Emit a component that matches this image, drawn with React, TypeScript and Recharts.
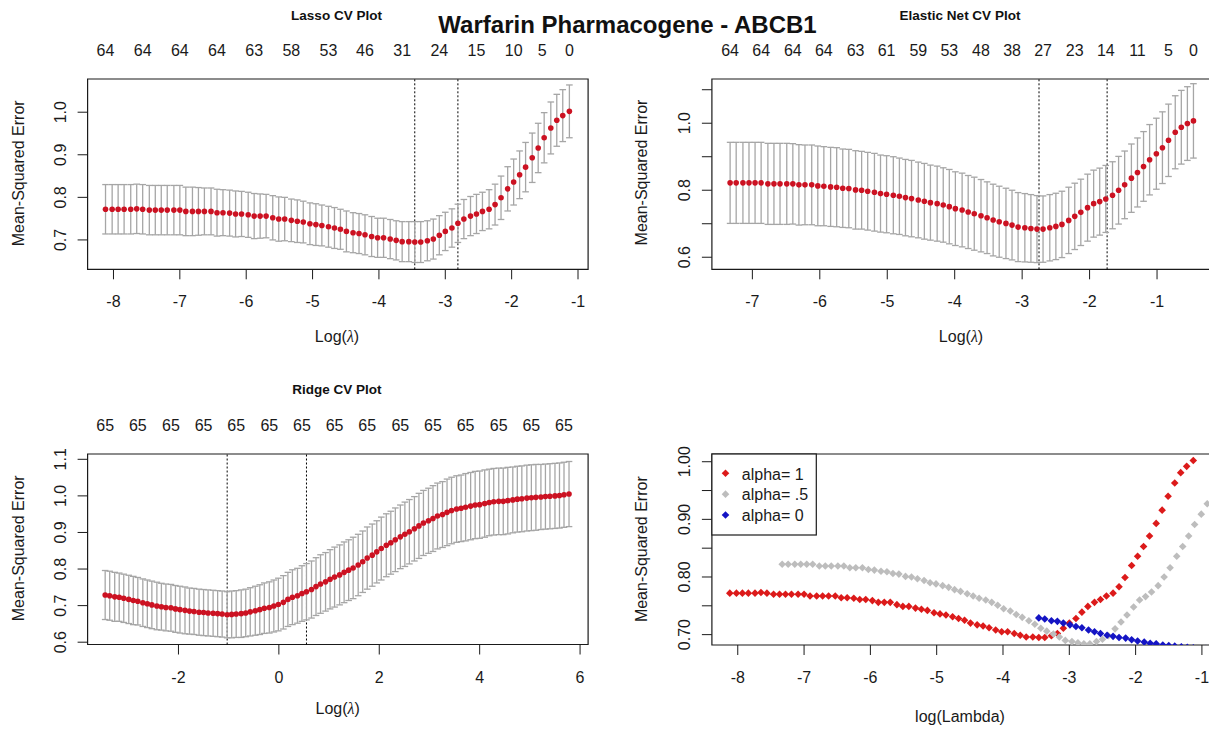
import React from 'react';
import { ComposedChart, Scatter, XAxis, YAxis, ErrorBar, ReferenceLine, ReferenceArea } from 'recharts';

const FONT = '"Liberation Sans", Arial, Helvetica, sans-serif';
const INK = '#1a1a1a';
const RED_CV = '#cc1222';
const ERR_GREY = '#a6a6a6';
const RED = '#dc1a1a';
const GREY = '#bdbdbd';
const BLUE = '#1414c4';

// ---------- Lasso (alpha = 1) ----------
const lassoLogLambda = [
  -8.12, -8.02, -7.93, -7.84, -7.74, -7.65, -7.56, -7.46, -7.37, -7.28,
  -7.19, -7.09, -7.00, -6.91, -6.81, -6.72, -6.63, -6.53, -6.44, -6.35,
  -6.25, -6.16, -6.07, -5.97, -5.88, -5.79, -5.70, -5.60, -5.51, -5.42,
  -5.32, -5.23, -5.14, -5.04, -4.95, -4.86, -4.76, -4.67, -4.58, -4.49,
  -4.39, -4.30, -4.21, -4.11, -4.02, -3.93, -3.83, -3.74, -3.65, -3.55,
  -3.46, -3.37, -3.27, -3.18, -3.09, -3.00, -2.90, -2.81, -2.72, -2.62,
  -2.53, -2.44, -2.34, -2.25, -2.16, -2.06, -1.97, -1.88, -1.79, -1.69,
  -1.60, -1.51, -1.41, -1.32, -1.23, -1.13,
];
const lassoMse = [
  0.772, 0.772, 0.772, 0.772, 0.772, 0.773, 0.772, 0.770, 0.770, 0.770,
  0.770, 0.770, 0.770, 0.767, 0.767, 0.767, 0.767, 0.767, 0.764, 0.764,
  0.763, 0.761, 0.761, 0.759, 0.756, 0.756, 0.756, 0.752, 0.749, 0.749,
  0.746, 0.744, 0.742, 0.738, 0.736, 0.734, 0.731, 0.728, 0.725, 0.720,
  0.717, 0.715, 0.712, 0.708, 0.705, 0.705, 0.702, 0.699, 0.696, 0.696,
  0.695, 0.695, 0.698, 0.702, 0.711, 0.720, 0.728, 0.739, 0.749, 0.756,
  0.761, 0.767, 0.772, 0.783, 0.799, 0.820, 0.836, 0.853, 0.871, 0.893,
  0.916, 0.940, 0.963, 0.981, 0.992, 1.002,
];
const lassoSe = [
  0.058, 0.058, 0.058, 0.058, 0.058, 0.058, 0.058, 0.058, 0.058, 0.058,
  0.058, 0.058, 0.058, 0.057, 0.057, 0.056, 0.055, 0.055, 0.055, 0.054,
  0.054, 0.054, 0.053, 0.053, 0.053, 0.052, 0.051, 0.052, 0.052, 0.051,
  0.050, 0.050, 0.049, 0.049, 0.049, 0.048, 0.048, 0.048, 0.047, 0.048,
  0.047, 0.047, 0.047, 0.047, 0.046, 0.046, 0.046, 0.046, 0.047, 0.047,
  0.048, 0.048, 0.047, 0.047, 0.046, 0.045, 0.045, 0.045, 0.046, 0.046,
  0.046, 0.045, 0.046, 0.048, 0.051, 0.052, 0.054, 0.056, 0.058, 0.058,
  0.058, 0.059, 0.061, 0.061, 0.061, 0.062,
];
const lassoTopAt = [-8.12, -7.56, -7.0, -6.44, -5.88, -5.32, -4.76, -4.21, -3.65, -3.09, -2.53, -1.97, -1.54, -1.13];
const lassoTopLabels = ['64', '64', '64', '64', '63', '58', '53', '46', '31', '24', '15', '10', '5', '0'];
const lassoCuts = [-3.46, -2.81];

// ---------- Elastic net (alpha = .5) ----------
const enetLogLambda = [
  -7.33, -7.24, -7.14, -7.05, -6.96, -6.87, -6.77, -6.68, -6.59, -6.49,
  -6.40, -6.31, -6.22, -6.12, -6.03, -5.94, -5.84, -5.75, -5.66, -5.57,
  -5.47, -5.38, -5.29, -5.19, -5.10, -5.01, -4.91, -4.82, -4.73, -4.64,
  -4.54, -4.45, -4.36, -4.26, -4.17, -4.08, -3.99, -3.89, -3.80, -3.71,
  -3.61, -3.52, -3.43, -3.34, -3.24, -3.15, -3.06, -2.96, -2.87, -2.78,
  -2.69, -2.59, -2.50, -2.41, -2.31, -2.22, -2.13, -2.03, -1.94, -1.85,
  -1.76, -1.66, -1.57, -1.48, -1.38, -1.29, -1.20, -1.11, -1.01, -0.92,
  -0.83, -0.73, -0.64, -0.55, -0.46,
];
const enetMse = [
  0.822, 0.822, 0.822, 0.822, 0.822, 0.822, 0.819, 0.819, 0.819, 0.819,
  0.819, 0.816, 0.816, 0.816, 0.813, 0.812, 0.810, 0.809, 0.806, 0.805,
  0.801, 0.800, 0.797, 0.794, 0.790, 0.788, 0.785, 0.782, 0.778, 0.775,
  0.771, 0.767, 0.763, 0.760, 0.756, 0.751, 0.745, 0.741, 0.735, 0.730,
  0.724, 0.718, 0.711, 0.706, 0.701, 0.696, 0.690, 0.688, 0.686, 0.684,
  0.684, 0.688, 0.692, 0.698, 0.710, 0.722, 0.734, 0.748, 0.760, 0.766,
  0.774, 0.785, 0.800, 0.816, 0.836, 0.853, 0.871, 0.891, 0.909, 0.927,
  0.949, 0.973, 0.988, 0.999, 1.007,
];
const enetSe = [
  0.121, 0.121, 0.121, 0.121, 0.121, 0.121, 0.121, 0.121, 0.121, 0.121,
  0.120, 0.120, 0.119, 0.119, 0.119, 0.118, 0.118, 0.118, 0.117, 0.117,
  0.117, 0.116, 0.116, 0.116, 0.115, 0.115, 0.115, 0.114, 0.114, 0.114,
  0.113, 0.113, 0.112, 0.112, 0.111, 0.111, 0.110, 0.110, 0.109, 0.109,
  0.108, 0.107, 0.107, 0.106, 0.105, 0.104, 0.103, 0.102, 0.101, 0.100,
  0.099, 0.099, 0.099, 0.099, 0.099, 0.099, 0.099, 0.100, 0.100, 0.100,
  0.100, 0.100, 0.101, 0.101, 0.102, 0.103, 0.104, 0.105, 0.106, 0.107,
  0.108, 0.109, 0.110, 0.110, 0.111,
];
const enetTopAt = [-7.33, -6.87, -6.4, -5.94, -5.47, -5.01, -4.54, -4.08, -3.61, -3.15, -2.69, -2.22, -1.76, -1.29, -0.83, -0.46];
const enetTopLabels = ['64', '64', '64', '64', '63', '61', '59', '53', '48', '38', '27', '23', '14', '11', '5', '0'];
const enetCuts = [-2.75, -1.74];

// ---------- Ridge (alpha = 0) ----------
const ridgeLogLambda = [
  -3.46, -3.37, -3.27, -3.18, -3.09, -2.99, -2.90, -2.81, -2.71, -2.62,
  -2.53, -2.43, -2.34, -2.25, -2.15, -2.06, -1.97, -1.87, -1.78, -1.69,
  -1.59, -1.50, -1.41, -1.31, -1.22, -1.13, -1.03, -0.94, -0.85, -0.75,
  -0.66, -0.57, -0.47, -0.38, -0.29, -0.19, -0.10, -0.01, 0.09, 0.18,
  0.27, 0.37, 0.46, 0.55, 0.65, 0.74, 0.83, 0.93, 1.02, 1.11,
  1.21, 1.30, 1.39, 1.48, 1.58, 1.67, 1.76, 1.86, 1.95, 2.04,
  2.14, 2.23, 2.32, 2.42, 2.51, 2.60, 2.70, 2.79, 2.88, 2.98,
  3.07, 3.16, 3.26, 3.35, 3.44, 3.54, 3.63, 3.72, 3.82, 3.91,
  4.00, 4.10, 4.19, 4.28, 4.38, 4.47, 4.56, 4.66, 4.75, 4.84,
  4.94, 5.03, 5.12, 5.22, 5.31, 5.40, 5.50, 5.59, 5.68, 5.78,
];
const ridgeMse = [
  0.729, 0.727, 0.724, 0.723, 0.720, 0.717, 0.714, 0.712, 0.708, 0.705,
  0.702, 0.699, 0.697, 0.695, 0.694, 0.691, 0.689, 0.687, 0.685, 0.684,
  0.682, 0.681, 0.680, 0.679, 0.678, 0.677, 0.675, 0.676, 0.677, 0.678,
  0.680, 0.683, 0.686, 0.689, 0.693, 0.695, 0.699, 0.703, 0.709, 0.717,
  0.723, 0.727, 0.733, 0.738, 0.744, 0.752, 0.759, 0.765, 0.772, 0.778,
  0.784, 0.791, 0.797, 0.803, 0.811, 0.820, 0.830, 0.838, 0.847, 0.856,
  0.865, 0.872, 0.880, 0.888, 0.895, 0.902, 0.910, 0.918, 0.926, 0.932,
  0.938, 0.945, 0.949, 0.955, 0.960, 0.964, 0.966, 0.969, 0.972, 0.975,
  0.976, 0.979, 0.982, 0.984, 0.985, 0.985, 0.987, 0.989, 0.991, 0.992,
  0.994, 0.995, 0.996, 0.997, 0.998, 0.999, 1.000, 1.001, 1.003, 1.005,
];
const ridgeSe = [
  0.067, 0.067, 0.067, 0.066, 0.066, 0.066, 0.066, 0.065, 0.065, 0.065,
  0.065, 0.065, 0.064, 0.064, 0.064, 0.064, 0.064, 0.064, 0.063, 0.063,
  0.063, 0.063, 0.063, 0.063, 0.063, 0.063, 0.063, 0.064, 0.064, 0.065,
  0.065, 0.066, 0.067, 0.068, 0.069, 0.070, 0.071, 0.072, 0.073, 0.074,
  0.075, 0.075, 0.076, 0.077, 0.078, 0.079, 0.080, 0.080, 0.081, 0.082,
  0.082, 0.083, 0.083, 0.084, 0.084, 0.084, 0.085, 0.085, 0.085, 0.086,
  0.086, 0.086, 0.087, 0.087, 0.088, 0.088, 0.088, 0.089, 0.089, 0.089,
  0.090, 0.090, 0.090, 0.091, 0.091, 0.091, 0.091, 0.092, 0.092, 0.092,
  0.092, 0.092, 0.091, 0.091, 0.091, 0.091, 0.091, 0.090, 0.090, 0.090,
  0.090, 0.090, 0.090, 0.089, 0.089, 0.089, 0.089, 0.089, 0.089, 0.089,
];
const ridgeTopAt = [-3.46, -2.81, -2.15, -1.5, -0.85, -0.19, 0.46, 1.11, 1.76, 2.42, 3.07, 3.72, 4.38, 5.03, 5.68];
const ridgeTopLabels = ['65', '65', '65', '65', '65', '65', '65', '65', '65', '65', '65', '65', '65', '65', '65'];
const ridgeCuts = [-1.03, 0.55];

// ---------- Axis ticks ----------
const lassoXTicks = [-8, -7, -6, -5, -4, -3, -2, -1];
const enetXTicks = [-7, -6, -5, -4, -3, -2, -1];
const ridgeXTicks = [-2, 0, 2, 4, 6];
const lassoYTicks = [0.7, 0.8, 0.9, 1.0];
const lassoYLabels = ['0.7', '0.8', '0.9', '1.0'];
const enetYTicks = [0.6, 0.7, 0.8, 0.9, 1.0, 1.1];
const enetYLabels = ['0.6', '', '0.8', '', '1.0', ''];
const ridgeYTicks = [0.6, 0.7, 0.8, 0.9, 1.0, 1.1];
const ridgeYLabels = ['0.6', '0.7', '0.8', '0.9', '1.0', '1.1'];
const compYTicks = [0.7, 0.75, 0.8, 0.85, 0.9, 0.95, 1.0];
const compYLabels = ['0.70', '', '0.80', '', '0.90', '', '1.00'];

const legendLabels = ['alpha= 1', 'alpha= .5', 'alpha= 0'];
const legendColors = [RED, GREY, BLUE];

const toRows = (xs: number[], ys: number[], se?: number[]) =>
  xs.map((x, i) => ({ x, y: ys[i], se: se ? se[i] : 0 }));

const lassoRows = toRows(lassoLogLambda, lassoMse, lassoSe);
const enetRows = toRows(enetLogLambda, enetMse, enetSe);
const ridgeRows = toRows(ridgeLogLambda, ridgeMse, ridgeSe);

const dotShape = (color: string, r: number) => (p: any) =>
  p.cx == null ? <g /> : <circle cx={p.cx} cy={p.cy} r={r} fill={color} />;
const diamondShape = (color: string, h: number) => (p: any) =>
  p.cx == null ? <g /> : (
    <polygon
      points={`${p.cx},${p.cy - h} ${p.cx + h},${p.cy} ${p.cx},${p.cy + h} ${p.cx - h},${p.cy}`}
      fill={color}
    />
  );
const noShape = () => <g />;

const BottomTick = (p: any) => (
  <text x={p.x} y={p.y + 28} textAnchor="middle" fontSize={16} fontFamily={FONT} fill={INK}>
    {String(p.payload.value)}
  </text>
);

const makeTopTick = (at: number[], labels: string[]) => (p: any) => {
  const i = at.indexOf(p.payload.value);
  return (
    <text x={p.x} y={p.y - 23.5} textAnchor="middle" fontSize={16} fontFamily={FONT} fill={INK}>
      {i >= 0 ? labels[i] : ''}
    </text>
  );
};

const makeLeftTick = (ticks: number[], labels: string[]) => (p: any) => {
  const i = ticks.indexOf(p.payload.value);
  const lab = i >= 0 ? labels[i] : '';
  const bx = p.x - 11.5;
  return (
    <text x={bx} y={p.y} transform={`rotate(-90 ${bx} ${p.y})`} textAnchor="middle" fontSize={16} fontFamily={FONT} fill={INK}>
      {lab}
    </text>
  );
};

type Series = { data: any[]; shape: any; err?: boolean };
type PanelProps = {
  left: number;
  top: number;
  width: number;
  height: number;
  margin: { top: number; right: number; bottom: number; left: number };
  xDomain: [number, number];
  xTicks: number[];
  yDomain: [number, number];
  yTicks: number[];
  yLabels: string[];
  topAt?: number[];
  topLabels?: string[];
  series: Series[];
  cuts?: number[];
};

function Panel(props: PanelProps) {
  const { left, top, width, height, margin, xDomain, xTicks, yDomain, yTicks, yLabels, topAt, topLabels, series, cuts } = props;
  const topRows = topAt ? topAt.map((x) => ({ x, y: yDomain[0] })) : [];
  return (
    <div style={{ position: 'absolute', left, top }}>
      <ComposedChart width={width} height={height} margin={margin}>
        <XAxis
          xAxisId="b"
          type="number"
          dataKey="x"
          domain={xDomain}
          ticks={xTicks}
          allowDataOverflow
          interval={0}
          height={40}
          tickSize={10}
          tickMargin={0}
          axisLine={false}
          tickLine={{ stroke: INK }}
          tick={BottomTick}
        />
        {topAt && topLabels ? (
          <XAxis
            xAxisId="t"
            orientation="top"
            type="number"
            dataKey="x"
            domain={xDomain}
            ticks={topAt}
            allowDataOverflow
            interval={0}
            height={30}
            tickSize={0}
            tickMargin={0}
            axisLine={false}
            tickLine={false}
            tick={makeTopTick(topAt, topLabels)}
          />
        ) : null}
        <YAxis
          type="number"
          dataKey="y"
          domain={yDomain}
          ticks={yTicks}
          allowDataOverflow
          interval={0}
          width={50}
          tickSize={10}
          tickMargin={0}
          axisLine={false}
          tickLine={{ stroke: INK }}
          tick={makeLeftTick(yTicks, yLabels)}
        />
        {(cuts || []).map((c) => (
          <ReferenceLine key={c} xAxisId="b" x={c} stroke="#000" strokeWidth={1} strokeDasharray="2 2" />
        ))}
        {topAt ? (
          <Scatter xAxisId="t" dataKey="y" data={topRows} shape={noShape} isAnimationActive={false} />
        ) : null}
        {series.map((s, k) => (
          <Scatter key={k} xAxisId="b" dataKey="y" data={s.data} shape={s.shape} isAnimationActive={false}>
            {s.err ? (
              <ErrorBar dataKey="se" direction="y" width={3.3} stroke={ERR_GREY} strokeWidth={1.3} isAnimationActive={false} />
            ) : null}
          </Scatter>
        ))}
        <ReferenceArea
          xAxisId="b"
          x1={xDomain[0]}
          x2={xDomain[1]}
          y1={yDomain[0]}
          y2={yDomain[1]}
          fill="none"
          fillOpacity={0}
          stroke={INK}
          strokeWidth={1.2}
          ifOverflow="visible"
        />
      </ComposedChart>
    </div>
  );
}

const lassoXDomain: [number, number] = [-8.39, -0.848];
const enetXDomain: [number, number] = [-7.6, -0.185];
const ridgeXDomain: [number, number] = [-3.81, 6.16];

export default function App() {
  return (
    <div
      style={{
        position: 'absolute',
        left: 0,
        top: 0,
        width: 1209,
        height: 729,
        overflow: 'hidden',
        background: '#fff',
        fontFamily: FONT,
      }}
    >
      <Panel
        left={0}
        top={0}
        width={600}
        height={360}
        margin={{ top: 49, right: 11.9, bottom: 50.7, left: 37.6 }}
        xDomain={lassoXDomain}
        xTicks={lassoXTicks}
        yDomain={[0.631, 1.078]}
        yTicks={lassoYTicks}
        yLabels={lassoYLabels}
        topAt={lassoTopAt}
        topLabels={lassoTopLabels}
        cuts={lassoCuts}
        series={[{ data: lassoRows, shape: dotShape(RED_CV, 2.8), err: true }]}
      />
      <Panel
        left={620}
        top={0}
        width={600}
        height={360}
        margin={{ top: 49, right: 8, bottom: 50.7, left: 41.9 }}
        xDomain={enetXDomain}
        xTicks={enetXTicks}
        yDomain={[0.564, 1.132]}
        yTicks={enetYTicks}
        yLabels={enetYLabels}
        topAt={enetTopAt}
        topLabels={enetTopLabels}
        cuts={enetCuts}
        series={[{ data: enetRows, shape: dotShape(RED_CV, 2.8), err: true }]}
      />
      <Panel
        left={0}
        top={370}
        width={600}
        height={359}
        margin={{ top: 54, right: 11.9, bottom: 44.5, left: 37.6 }}
        xDomain={ridgeXDomain}
        xTicks={ridgeXTicks}
        yDomain={[0.5937, 1.1145]}
        yTicks={ridgeYTicks}
        yLabels={ridgeYLabels}
        topAt={ridgeTopAt}
        topLabels={ridgeTopLabels}
        cuts={ridgeCuts}
        series={[{ data: ridgeRows, shape: dotShape(RED_CV, 2.8), err: true }]}
      />
      <Panel
        left={620}
        top={370}
        width={600}
        height={359}
        margin={{ top: 84, right: 8, bottom: 44, left: 41.9 }}
        xDomain={lassoXDomain}
        xTicks={lassoXTicks}
        yDomain={[0.682, 1.0134]}
        yTicks={compYTicks}
        yLabels={compYLabels}
        series={[
          { data: lassoRows, shape: diamondShape(RED, 3.8) },
          { data: enetRows, shape: diamondShape(GREY, 3.8) },
          { data: ridgeRows, shape: diamondShape(BLUE, 3.8) },
        ]}
      />

      <svg
        width={1209}
        height={729}
        style={{ position: 'absolute', left: 0, top: 0, pointerEvents: 'none' }}
        fontFamily={FONT}
      >
        <text x={627.5} y={33} textAnchor="middle" fontSize={24} fontWeight="bold" fill="#111">
          Warfarin Pharmacogene - ABCB1
        </text>
        <text x={336.5} y={20} textAnchor="middle" fontSize={13.5} fontWeight="bold" fill="#111">
          Lasso CV Plot
        </text>
        <text x={960} y={20} textAnchor="middle" fontSize={13.5} fontWeight="bold" fill="#111">
          Elastic Net CV Plot
        </text>
        <text x={336.8} y={394} textAnchor="middle" fontSize={13.5} fontWeight="bold" fill="#111">
          Ridge CV Plot
        </text>

        <text x={24} y={173.3} transform="rotate(-90 24 173.3)" textAnchor="middle" fontSize={16} fill={INK}>
          Mean-Squared Error
        </text>
        <text x={647} y={172.5} transform="rotate(-90 647 172.5)" textAnchor="middle" fontSize={16} fill={INK}>
          Mean-Squared Error
        </text>
        <text x={24} y={548.3} transform="rotate(-90 24 548.3)" textAnchor="middle" fontSize={16} fill={INK}>
          Mean-Squared Error
        </text>
        <text x={647} y={549.2} transform="rotate(-90 647 549.2)" textAnchor="middle" fontSize={16} fill={INK}>
          Mean-Squared Error
        </text>

        <text x={337} y={341.5} textAnchor="middle" fontSize={16} fill={INK}>
          Log(<tspan fontFamily='"Liberation Serif", "DejaVu Serif", serif' fontStyle="italic">λ</tspan>)
        </text>
        <text x={961} y={341.5} textAnchor="middle" fontSize={16} fill={INK}>
          Log(<tspan fontFamily='"Liberation Serif", "DejaVu Serif", serif' fontStyle="italic">λ</tspan>)
        </text>
        <text x={337.7} y={713.5} textAnchor="middle" fontSize={16} fill={INK}>
          Log(<tspan fontFamily='"Liberation Serif", "DejaVu Serif", serif' fontStyle="italic">λ</tspan>)
        </text>
        <text x={960} y={721.7} textAnchor="middle" fontSize={16} fill={INK}>
          log(Lambda)
        </text>

        <rect x={711.9} y={454} width={104.4} height={81} fill="#fff" stroke={INK} strokeWidth={1.2} />
        {legendLabels.map((lab, i) => {
          const cy = 473.3 + i * 20.85;
          const cx = 725.5;
          const h = 3.8;
          return (
            <g key={lab}>
              <polygon
                points={`${cx},${cy - h} ${cx + h},${cy} ${cx},${cy + h} ${cx - h},${cy}`}
                fill={legendColors[i]}
              />
              <text x={741.8} y={cy + 6.2} fontSize={16} fill={INK}>
                {lab}
              </text>
            </g>
          );
        })}
      </svg>
    </div>
  );
}
